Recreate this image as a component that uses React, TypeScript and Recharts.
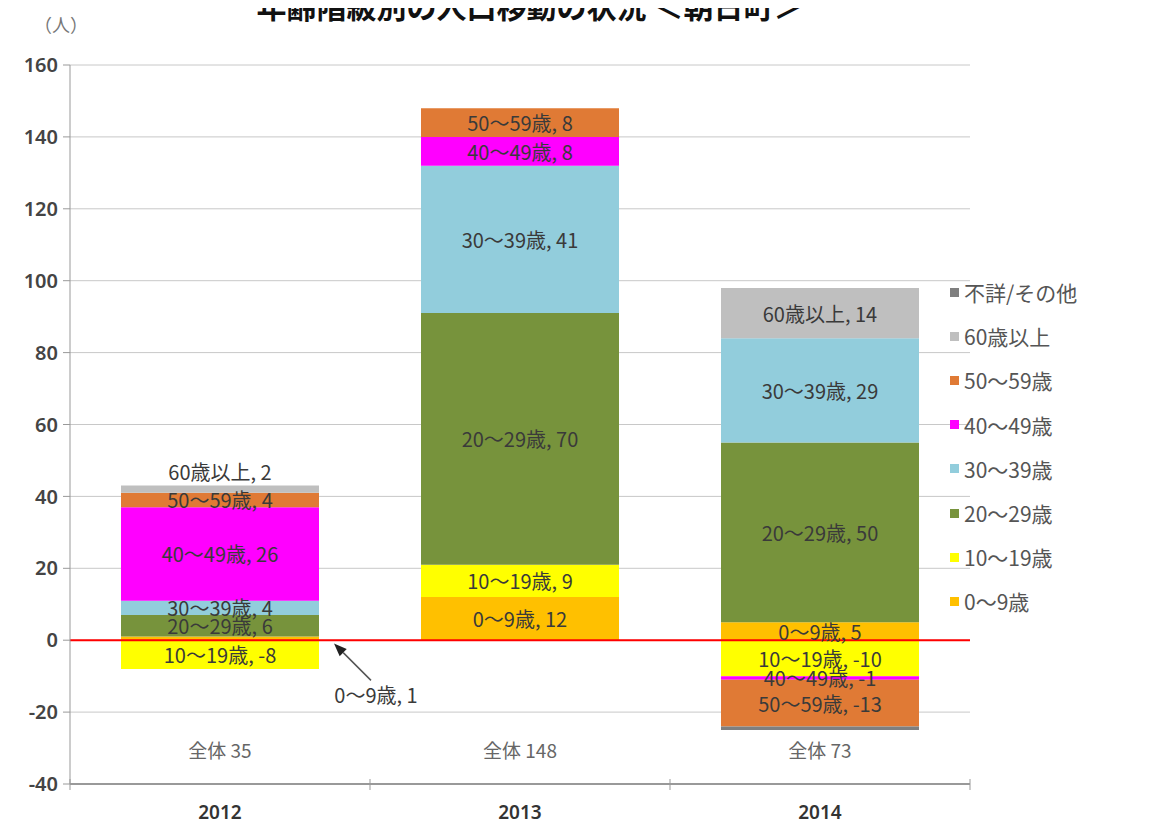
import React from 'react';
import {
  BarChart,
  Bar,
  XAxis,
  YAxis,
  CartesianGrid,
  ReferenceLine,
  ReferenceDot,
  Legend,
  LabelList,
} from 'recharts';

const years = ['2012', '2013', '2014'];
const seriesNames = ['0～9歳', '10～19歳', '20～29歳', '30～39歳', '40～49歳', '50～59歳', '60歳以上', '不詳/その他'];
const age0_9 = [1, 12, 5];
const age10_19 = [-8, 9, -10];
const age20_29 = [6, 70, 50];
const age30_39 = [4, 41, 29];
const age40_49 = [26, 8, -1];
const age50_59 = [4, 8, -13];
const age60plus = [2, 0, 14];
const unknownOther = [0, 0, -1];
const totals = [35, 148, 73];
const yTicks = [-40, -20, 0, 20, 40, 60, 80, 100, 120, 140, 160];
const colors = ['#FFC000', '#FFFF00', '#77933C', '#92CDDC', '#FF00FF', '#E07A35', '#BFBFBF', '#7F7F7F'];

const seriesValues = [age0_9, age10_19, age20_29, age30_39, age40_49, age50_59, age60plus, unknownOther];
const keys = seriesValues.map((_, i) => 's' + i);

const data = years.map((year, i) => {
  const row: Record<string, any> = { year };
  seriesValues.forEach((vals, s) => {
    row[keys[s]] = vals[i];
  });
  return row;
});

const FONT = '"Noto Sans CJK JP", "Noto Sans", sans-serif';
const LABEL_SIZE = 20;

const makeLabel = (sIdx: number) => (props: any) => {
  const { x, y, width, height, value } = props;
  if (sIdx === 7) return null;
  const nx = Number(x);
  const ny = Number(y);
  const nw = Number(width);
  const nh = Number(height);
  const text = `${seriesNames[sIdx]}, ${value}`;
  const cx = nx + nw / 2;
  const top = Math.min(ny, ny + nh);
  const h = Math.abs(nh);
  const cy = top + h / 2;
  const style = { fontFamily: FONT, fontSize: LABEL_SIZE, fill: '#3a3a3a' };
  if (sIdx === 6 && h < 20) {
    return (
      <text x={cx} y={top - 14} textAnchor="middle" dominantBaseline="central" style={style}>
        {text}
      </text>
    );
  }
  if (value === 0) return null;
  if (h < 6 && Number(value) > 0) {
    const right = nx + nw;
    const tipX = right + 15;
    const tipY = cy + 5;
    const tailX = right + 52;
    const tailY = cy + 42;
    const ang = Math.atan2(tipY - tailY, tipX - tailX);
    const L = 13;
    const W = 5;
    const bx = tipX - L * Math.cos(ang);
    const by = tipY - L * Math.sin(ang);
    const p1x = bx + W * Math.sin(ang);
    const p1y = by - W * Math.cos(ang);
    const p2x = bx - W * Math.sin(ang);
    const p2y = by + W * Math.cos(ang);
    return (
      <g>
        <line x1={tailX} y1={tailY} x2={bx} y2={by} stroke="#555" strokeWidth={1.5} />
        <polygon points={`${tipX},${tipY} ${p1x},${p1y} ${p2x},${p2y}`} fill="#222" />
        <text x={right + 57} y={cy + 56} textAnchor="middle" dominantBaseline="central" style={style}>
          {text}
        </text>
      </g>
    );
  }
  return (
    <text x={cx} y={cy} textAnchor="middle" dominantBaseline="central" style={style}>
      {text}
    </text>
  );
};

const YearTick = (props: any) => {
  const { x, y, payload, index, visibleTicksCount } = props;
  const half = Number(payload?.offset) || 0;
  const isLast = index === (visibleTicksCount ?? 3) - 1;
  return (
    <g>
      <line x1={x - half} x2={x - half} y1={y - 5} y2={y + 6} stroke="#999" strokeWidth={1} />
      {isLast && <line x1={x + half} x2={x + half} y1={y - 5} y2={y + 6} stroke="#999" strokeWidth={1} />}
      <text
        x={x}
        y={y + 28}
        textAnchor="middle"
        dominantBaseline="central"
        style={{ fontFamily: '"Noto Sans", sans-serif', fontWeight: 600, fontSize: 19, fill: '#333' }}
      >
        {payload.value}
      </text>
    </g>
  );
};

const renderLegend = () => (
  <div style={{ fontFamily: FONT }}>
    {seriesNames
      .map((_, i) => i)
      .reverse()
      .map((i) => (
        <div key={i} style={{ height: 44.2, display: 'flex', alignItems: 'center' }}>
          <span style={{ display: 'inline-block', width: 9, height: 9, background: colors[i], marginRight: 5 }} />
          <span style={{ fontSize: 21, color: '#555' }}>{seriesNames[i]}</span>
        </div>
      ))}
  </div>
);

export default function App() {
  return (
    <div style={{ position: 'relative', width: 1166, height: 828, marginTop: -8, marginLeft: -8, overflow: 'hidden', background: '#fff' }}>
      <div
        style={{
          position: 'absolute',
          left: 0,
          width: 1060,
          top: -17,
          textAlign: 'center',
          fontFamily: FONT,
          fontWeight: 'bold',
          fontSize: 30,
          color: '#111',
          whiteSpace: 'nowrap',
        }}
      >
        年齢階級別の人口移動の状況 ＜朝日町＞
      </div>
      <div style={{ position: 'absolute', left: 34, top: 11, fontFamily: FONT, fontSize: 18, color: '#777' }}>（人）</div>
      <BarChart
        width={1166}
        height={828}
        data={data}
        stackOffset="sign"
        margin={{ top: 65, right: 196, bottom: 0, left: 0 }}
        barSize={198}
      >
        <CartesianGrid horizontal vertical={false} stroke="#c8c8c8" />
        <XAxis
          dataKey="year"
          tick={<YearTick />}
          tickLine={false}
          tickSize={0}
          tickMargin={0}
          axisLine={{ stroke: '#999', strokeWidth: 2 }}
          height={44}
          interval={0}
        />
        <YAxis
          domain={[-40, 160]}
          ticks={yTicks}
          interval={0}
          width={70}
          tickSize={7}
          tickMargin={5}
          tickLine={{ stroke: '#999' }}
          axisLine={{ stroke: '#999' }}
          tick={{ fontFamily: '"Noto Sans", sans-serif', fontWeight: 600, fontSize: 20, fill: '#444' }}
        />
        <Legend
          layout="vertical"
          align="center"
          verticalAlign="middle"
          content={renderLegend}
          wrapperStyle={{ left: 950, top: 270, width: 216 }}
        />
        {keys.map((k, i) => (
          <Bar key={k} dataKey={k} name={seriesNames[i]} stackId="a" fill={colors[i]} isAnimationActive={false}>
            <LabelList dataKey={k} content={makeLabel(i)} />
          </Bar>
        ))}
        <ReferenceLine y={0} stroke="#FF0000" strokeWidth={2} />
        {years.map((yr, i) => (
          <ReferenceDot
            key={yr}
            x={yr}
            y={-31}
            r={0}
            fill="none"
            stroke="none"
            label={{ value: `全体 ${totals[i]}`, position: 'center', style: { fontFamily: FONT, fontSize: 19, fill: '#666' } }}
          />
        ))}
      </BarChart>
    </div>
  );
}
